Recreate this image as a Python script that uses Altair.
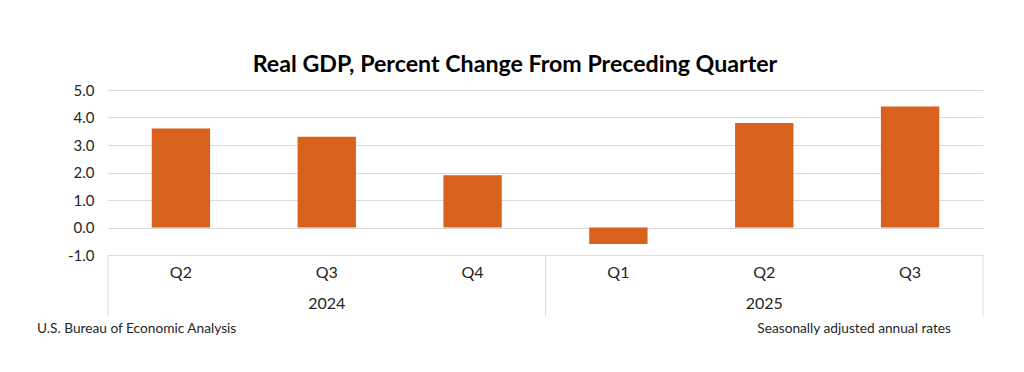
import altair as alt
import pandas as pd

quarters = ["Q2", "Q3", "Q4", "Q1", "Q2", "Q3"]
years = ["2024", "2024", "2024", "2025", "2025", "2025"]
values = [3.6, 3.3, 1.9, -0.6, 3.8, 4.4]
year_labels = ["2024", "2025"]
year_centers = [1.5, 4.5]
separators = [0, 3, 6]

keys = [f"{q} {y}" for q, y in zip(quarters, years)]
df = pd.DataFrame({"key": keys, "quarter": quarters, "year": years, "value": values})
yr = pd.DataFrame({"year": year_labels, "pos": year_centers})
sep = pd.DataFrame({"pos": separators})

FONT = "Lato"
W, H = 875, 165

xband = alt.X("key:N", sort=keys, axis=None,
              scale=alt.Scale(paddingInner=0.6, paddingOuter=0.3))

bars = alt.Chart(df).mark_bar(color="#D7611D").encode(
    x=xband,
    y=alt.Y("value:Q", scale=alt.Scale(domain=[-1, 5], nice=False),
            axis=alt.Axis(values=[-1, 0, 1, 2, 3, 4, 5], title=None,
                          labelExpr="(datum.value < 0 ? '-' : '') + format(abs(datum.value), '.1f')",
                          grid=True, gridColor="#D9D9D9", domain=False, ticks=False,
                          labelFont=FONT, labelFontSize=15, labelColor="#262626",
                          labelPadding=14)),
)

qlabels = alt.Chart(df).mark_text(font=FONT, fontSize=16, color="#262626",
                                  baseline="alphabetic").encode(
    x=xband,
    y=alt.value(188),
    text="quarter:N",
)

xlin = alt.Scale(domain=[0, 6], nice=False, zero=False)

ylabels = alt.Chart(yr).mark_text(font=FONT, fontSize=16, color="#262626",
                                  baseline="alphabetic").encode(
    x=alt.X("pos:Q", scale=xlin, axis=None),
    y=alt.value(219),
    text="year:N",
)

rules = alt.Chart(sep).mark_rule(color="#D9D9D9", strokeWidth=1).encode(
    x=alt.X("pos:Q", scale=xlin, axis=None),
    y=alt.value(165),
    y2=alt.value(226),
)

title = alt.Chart(pd.DataFrame({"t": ["Real GDP, Percent Change From Preceding Quarter"]})).mark_text(
    font=FONT, fontSize=23.2, fontWeight="bold", color="#000000",
    baseline="alphabetic", align="center").encode(
    x=alt.value(407), y=alt.value(-18), text="t:N")

foot_l = alt.Chart(pd.DataFrame({"t": ["U.S. Bureau of Economic Analysis"]})).mark_text(
    font=FONT, fontSize=13.7, color="#262626", baseline="alphabetic", align="left").encode(
    x=alt.value(-71), y=alt.value(243), text="t:N")

foot_r = alt.Chart(pd.DataFrame({"t": ["Seasonally adjusted annual rates"]})).mark_text(
    font=FONT, fontSize=13.7, color="#262626", baseline="alphabetic", align="right").encode(
    x=alt.value(843), y=alt.value(243), text="t:N")

chart = alt.layer(bars, qlabels, ylabels, rules, title, foot_l, foot_r).resolve_scale(
    x="independent"
).properties(
    width=W, height=H,
    background="white",
    autosize=alt.AutoSizeParams(type="none"),
    padding={"left": 100, "top": 82, "right": 33, "bottom": 109},
).configure_view(stroke=None)

chart.save("out.html", embed_options={"renderer": "svg", "actions": False})
